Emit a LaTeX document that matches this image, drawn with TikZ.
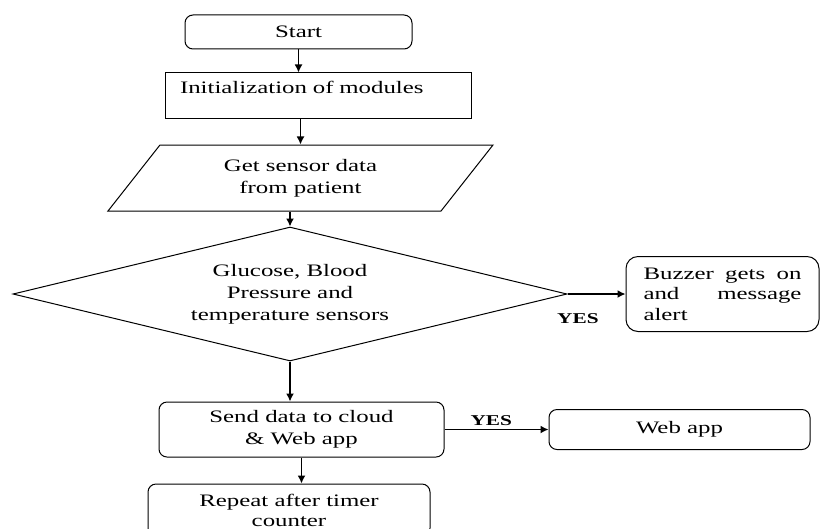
\documentclass[tikz,border=0pt]{standalone}
\usepackage{fontspec}
\setmainfont[FakeStretch=1.42]{Liberation Serif}
\usetikzlibrary{arrows.meta,positioning,calc,shapes.geometric}
\tikzset{
  rbox/.style={draw, rectangle, rounded corners=8pt, line width=1pt, align=center},
  pbox/.style={draw, rectangle, line width=1pt},
  io/.style={draw, trapezium, trapezium left angle=40.6, trapezium right angle=139.4, trapezium stretches body, line width=1pt, align=center},
  decision/.style={draw, diamond, aspect=4, inner sep=0pt, line width=1pt, align=center},
  arr/.style={-{Latex[length=8pt,width=8pt]}, line width=1.5pt},
  yes/.style={font=\fontsize{15}{18}\selectfont\bfseries},
}

\begin{document}
\begin{tikzpicture}[x=1pt, y=-1pt, font=\fontsize{17.5}{22}\selectfont]
\useasboundingbox (0,0) rectangle (821,529);
% main column
\node[rbox, minimum width=227pt, minimum height=34pt] (start) at (298.5,32) {Start};
\node[pbox, below=23pt of start, xshift=19.5pt, minimum width=306pt, text width=276pt, align=left,
  inner ysep=6pt, text height=15pt, text depth=19pt] (init) {Initialization of modules};
\node[io, below=25pt of init, xshift=-17.5pt, minimum width=385pt, minimum height=66pt] (para) {Get sensor data\\from patient};
\node[decision, below=15pt of para, xshift=-10.5pt, minimum width=554pt, minimum height=134pt] (diamond) {Glucose, Blood\\Pressure and\\temperature sensors};
\node[rbox, below=40pt of diamond, xshift=11.5pt, minimum width=285pt, minimum height=55pt] (send) {Send data to cloud\\\& Web app};
\node[rbox, below=26pt of send, xshift=-12.5pt, minimum width=282pt, minimum height=52pt,
  font=\fontsize{17.5}{20}\selectfont] (repeat) {Repeat after timer\\counter};
% outputs
\node[rbox, rounded corners=12pt, right=58pt of diamond, minimum width=193pt, minimum height=75pt, text width=158pt, align=left,
  font=\fontsize{17.5}{20.5}\selectfont] (buzzer)
  {\makebox[158pt]{Buzzer\hfill gets\hfill on}\\\makebox[158pt]{and\hfill message}\\alert};
\node[rbox, right=104pt of send, minimum width=261pt, minimum height=40pt] (webapp) {Web app};
\draw[arr] (start.south) -- (start.south |- init.north);
\draw[arr] (para.north |- init.south) -- (para.north);
\draw[arr] (diamond.north |- para.south) -- (diamond.north);
\draw[arr] (diamond.south) -- (diamond.south |- send.north);
\draw[arr] (send.south) -- (send.south |- repeat.north);
\draw[arr] (diamond.east) -- node[yes, below=15pt, pos=0.18]{YES} (buzzer.west);
\draw[arr] (send.east) -- node[yes, above, pos=0.45]{YES} (webapp.west);
\end{tikzpicture}
\end{document}
